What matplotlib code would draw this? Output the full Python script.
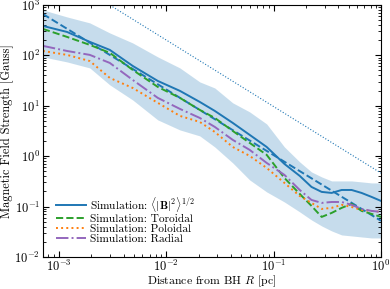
import matplotlib
matplotlib.use('Agg')
import matplotlib.pyplot as plt
from matplotlib import rcParams

rcParams['font.family'] = 'serif'
rcParams['font.serif'] = ['cmr10', 'DejaVu Serif']
rcParams['mathtext.fontset'] = 'cm'
rcParams['axes.formatter.use_mathtext'] = True

# radius grid [pc]
R = [7.1e-4, 1.19e-3, 1.94e-3, 2.98e-3, 4.87e-3, 8.34e-3, 1.34e-2, 2.05e-2,
     2.83e-2, 4.16e-2, 5.98e-2, 8.61e-2, 0.126, 0.175, 0.225, 0.280, 0.347,
     0.430, 0.532, 0.659, 0.817, 1.0]

B_total = [383, 291, 185, 128, 61.6, 31.0, 19.7, 11.9, 7.89, 4.56, 2.64, 1.52,
           0.70, 0.405, 0.245, 0.195, 0.186, 0.213, 0.213, 0.186, 0.155, 0.129]
B_toroidal = [334, 232, 161, 112, 51.3, 23.6, 14.3, 8.26, 5.73, 3.16, 1.83, 1.06,
              0.369, 0.178, 0.103, 0.0622, 0.0747, 0.094, 0.113, 0.0818, 0.0713, 0.0622]
B_poloidal = [122, 102, 77, 35.6, 22.5, 11.4, 6.28, 4.77, 3.02, 1.52, 1.01, 0.583,
              0.294, 0.162, 0.118, 0.0896, 0.094, 0.108, 0.098, 0.0857, 0.0818, 0.0782]
B_radial = [154, 122, 102, 70.6, 32.5, 14.3, 8.65, 5.73, 3.80, 2.10, 1.33, 0.733,
            0.424, 0.213, 0.135, 0.118, 0.123, 0.123, 0.108, 0.0896, 0.0818, 0.0782]

band_hi = [796, 578, 440, 278, 176, 93, 56.2, 29.7, 22.5, 11.4, 7.54, 4.35,
           1.52, 0.767, 0.486, 0.387, 0.322, 0.322, 0.322, 0.308, 0.294, 0.294]
band_lo = [93, 74, 56.2, 25.9, 13.0, 5.23, 3.31, 2.52, 1.52, 0.733, 0.337, 0.195,
           0.123, 0.0782, 0.0542, 0.0412, 0.0328, 0.0273, 0.0261, 0.0249, 0.0238, 0.0238]

# power-law fit (dashed) and steeper reference line (dotted)
fit_R = [7.1e-4, 1.0]
fit_B = [660, 0.052]
ref_R = [1e-3, 1.0]
ref_B = [4200, 0.46]

labels = [r'Simulation: $\langle|\mathbf{B}|^2\rangle^{1/2}$',
          'Simulation: Toroidal', 'Simulation: Poloidal', 'Simulation: Radial']

fig = plt.figure(figsize=(3.9, 2.89), dpi=100)
ax = fig.add_axes([0.110, 0.111, 0.867, 0.872])

ax.fill_between(R, band_lo, band_hi, color='#1f77b4', alpha=0.25, lw=0)
ax.plot(ref_R, ref_B, color='#1f77b4', ls=':', lw=0.8)
ax.plot(fit_R, fit_B, color='#1f77b4', ls='--', lw=1.4)
ax.plot(R, B_total, color='#1f77b4', ls='-', lw=1.4, label=labels[0])
ax.plot(R, B_toroidal, color='#2ca02c', ls='--', lw=1.4, label=labels[1])
ax.plot(R, B_poloidal, color='#ff7f0e', ls=':', lw=1.4, label=labels[2])
ax.plot(R, B_radial, color='#9467bd', ls='-.', lw=1.4, label=labels[3])

ax.set_xscale('log')
ax.set_yscale('log')
ax.set_xlim(7.1e-4, 1.0)
ax.set_ylim(1e-2, 1e3)
ax.tick_params(which='both', direction='in', top=True, right=True, labelsize=9, pad=2)
ax.tick_params(axis='x', which='both', pad=1.5)
ax.tick_params(which='major', length=4)
ax.tick_params(which='minor', length=2)
ax.set_xlabel(r'Distance from BH $R$ [pc]', fontsize=8.5, labelpad=-0.8)
ax.set_ylabel('Magnetic Field Strength [Gauss]', fontsize=8.8, labelpad=0)

ax.legend(loc='lower left', frameon=False, fontsize=8.2, handlelength=2.6,
          handletextpad=0.4, labelspacing=0.0, borderaxespad=0.55,
          borderpad=0.6)

fig.savefig('out.png', dpi=100)
